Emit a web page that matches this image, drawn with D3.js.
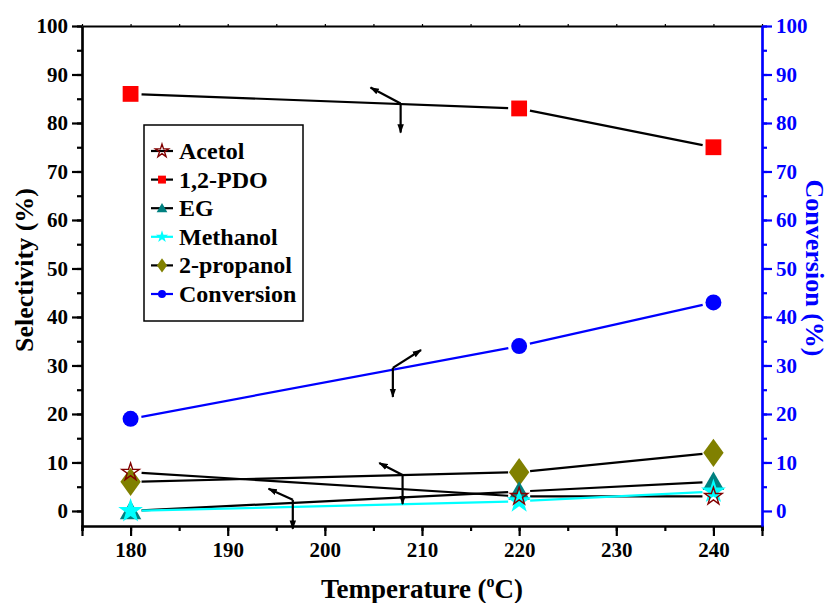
<!DOCTYPE html>
<html>
<head>
<meta charset="utf-8">
<script src="https://cdn.jsdelivr.net/npm/d3@7/dist/d3.min.js"></script>
<style>
  html, body { margin: 0; padding: 0; background: #fff; }
  svg text { font-family: "Liberation Serif", "Times New Roman", serif; font-weight: bold; }
</style>
</head>
<body>
<svg id="chart" width="832" height="603"></svg>
<script>
// Reaction temperature (°C)
const temperatures = [180, 220, 240];

// Product selectivity (%) — left axis
const acetol     = [8, 3, 3];
const pdo        = [86, 83, 75];
const eg         = [0, 4, 6];
const methanol   = [0, 2, 4];
const propanol2  = [6, 8, 12];
// Glycerol conversion (%) — right axis
const conversion = [19, 34, 43];

const xTicks = [180, 190, 200, 210, 220, 230, 240];
const yTicks = [0, 10, 20, 30, 40, 50, 60, 70, 80, 90, 100];

const seriesNames = ["Acetol", "1,2-PDO", "EG", "Methanol", "2-propanol", "Conversion"];

const svg = d3.select("#chart");
const margin = { left: 82, right: 70, top: 26, bottom: 77 };
const W = 832, H = 603;

const x = d3.scaleLinear().domain([175, 245]).range([margin.left, W - margin.right]);
const yL = d3.scaleLinear().domain([-3.1, 100]).range([H - margin.bottom, margin.top]);
const yR = d3.scaleLinear().domain([-3.1, 100]).range([H - margin.bottom, margin.top]);

const series = [
  { name: seriesNames[0], values: acetol,     y: yL, line: "#000", marker: "starOpen", color: "#800000" },
  { name: seriesNames[1], values: pdo,        y: yL, line: "#000", marker: "square",   color: "#ff0000" },
  { name: seriesNames[2], values: eg,         y: yL, line: "#000", marker: "triangle", color: "#008080" },
  { name: seriesNames[3], values: methanol,   y: yL, line: "#00ffff", marker: "star",  color: "#00ffff" },
  { name: seriesNames[4], values: propanol2,  y: yL, line: "#000", marker: "diamond",  color: "#808000" },
  { name: seriesNames[5], values: conversion, y: yR, line: "#0000ff", marker: "circle", color: "#0000ff" }
];

// Marker drawing
function drawMarker(g, type, cx, cy, color, scale) {
  const s = scale || 1;
  const sym = {
    square:   d3.symbolSquare,
    circle:   d3.symbolCircle,
    triangle: d3.symbolTriangle,
    diamond:  d3.symbolDiamond,
    star:     d3.symbolStar,
    starOpen: d3.symbolStar
  }[type];
  const size = {
    square: 250, circle: 200, triangle: 200, diamond: 230, star: 190, starOpen: 95
  }[type] * s * s;
  const p = g.append("path")
    .attr("d", d3.symbol().type(sym).size(size)())
    .attr("transform", `translate(${cx},${cy + (type === "triangle" ? 2 * s : 0)})`);
  if (type === "starOpen") {
    p.attr("fill", "none").attr("stroke", color).attr("stroke-width", 1.4);
  } else if (type === "diamond") {
    p.attr("fill", color).attr("transform", `translate(${cx},${cy}) scale(1.25,1)`);
  } else {
    p.attr("fill", color);
  }
}

// Axes
const bottomY = H - margin.bottom;

// bottom axis
const gx = svg.append("g").attr("transform", `translate(0,${bottomY})`);
gx.call(d3.axisBottom(x).tickValues(d3.range(175, 246, 5)).tickSize(5).tickFormat(""));
gx.append("g").call(d3.axisBottom(x).tickValues(xTicks).tickSize(10).tickPadding(6).tickFormat(d3.format("d")));
gx.selectAll("path.domain").attr("stroke-width", 2.2);
gx.selectAll("line").attr("stroke-width", 2.2);
gx.selectAll("text").attr("font-size", 21).attr("fill", "#000");

// top axis
const gt = svg.append("g").attr("transform", `translate(0,${margin.top})`);
gt.call(d3.axisTop(x).tickValues(d3.range(175, 246, 5)).tickSize(2).tickSizeOuter(0).tickFormat(""));
gt.selectAll("path.domain").attr("stroke-width", 2.2);
gt.selectAll("line").attr("stroke-width", 1.2);

// left axis
const gy = svg.append("g").attr("transform", `translate(${margin.left},0)`);
gy.call(d3.axisLeft(yL).tickValues(d3.range(-5, 101, 5).filter(v => v >= -3.1)).tickSize(5).tickSizeOuter(0).tickFormat(""));
gy.append("g").call(d3.axisLeft(yL).tickValues(yTicks).tickSize(10).tickSizeOuter(0).tickPadding(4).tickFormat(d3.format("d")));
gy.selectAll("path.domain").attr("stroke-width", 2.2);
gy.selectAll("line").attr("stroke-width", 2.2);
gy.selectAll("text").attr("font-size", 21).attr("fill", "#000");

// right axis (blue)
const gr = svg.append("g").attr("transform", `translate(${W - margin.right},0)`);
gr.call(d3.axisRight(yR).tickValues(d3.range(5, 101, 5)).tickSize(5).tickSizeOuter(0).tickFormat(""));
gr.append("g").call(d3.axisRight(yR).tickValues(yTicks).tickSize(10).tickSizeOuter(0).tickPadding(4).tickFormat(d3.format("d")));
gr.selectAll("path.domain").attr("stroke", "#0000ff").attr("stroke-width", 2.2);
gr.selectAll("line").attr("stroke", "#0000ff").attr("stroke-width", 2.2);
gr.selectAll("text").attr("font-size", 21).attr("fill", "#0000ff");

// Axis titles
svg.append("text")
  .attr("transform", `translate(33,${(margin.top + bottomY) / 2 - 6}) rotate(-90)`)
  .attr("text-anchor", "middle").attr("font-size", 26).attr("fill", "#000")
  .text("Selectivity (%)");

svg.append("text")
  .attr("transform", `translate(806,${(margin.top + bottomY) / 2 - 8}) rotate(90)`)
  .attr("text-anchor", "middle").attr("font-size", 26).attr("fill", "#0000ff")
  .text("Conversion (%)");

const xt = svg.append("text")
  .attr("x", (margin.left + W - margin.right) / 2).attr("y", 598)
  .attr("text-anchor", "middle").attr("font-size", 27).attr("fill", "#000");
xt.append("tspan").text("Temperature (");
xt.append("tspan").attr("font-size", 16).attr("dy", -11).text("o");
xt.append("tspan").attr("dy", 11).text("C)");

// Data lines: segments stop short of the markers
const gap = 11;
const gLines = svg.append("g");
series.forEach(s => {
  for (let i = 0; i < s.values.length - 1; i++) {
    const x1 = x(temperatures[i]), y1 = s.y(s.values[i]);
    const x2 = x(temperatures[i + 1]), y2 = s.y(s.values[i + 1]);
    const len = Math.hypot(x2 - x1, y2 - y1);
    const ux = (x2 - x1) / len, uy = (y2 - y1) / len;
    gLines.append("line")
      .attr("x1", x1 + ux * gap).attr("y1", y1 + uy * gap)
      .attr("x2", x2 - ux * gap).attr("y2", y2 - uy * gap)
      .attr("stroke", s.line).attr("stroke-width", 2.2);
  }
});

// Markers (draw order so the smaller ones stay visible)
const gMarks = svg.append("g");
const drawOrder = [1, 5, 4, 2, 3, 0];
drawOrder.forEach(k => {
  const s = series[k];
  s.values.forEach((v, i) => drawMarker(gMarks, s.marker, x(temperatures[i]), s.y(v), s.color));
});

// Arrows pointing each curve to its axis
const defs = svg.append("defs");
defs.append("marker").attr("id", "head")
  .attr("viewBox", "0 0 10 10").attr("refX", 9).attr("refY", 5)
  .attr("markerWidth", 4.2).attr("markerHeight", 4.2).attr("orient", "auto")
  .append("path").attr("d", "M0,1.5 L10,5 L0,8.5 Z").attr("fill", "#000");

// [temperature, value, dx to head (°C), dy to head (value units)]
const arrowPoints = [
  { t: 207.8, v: 84.0, axis: yL, dx: -3.1, dy: 3.3 },
  { t: 207.0, v: 29.5, axis: yR, dx: 2.9,  dy: 3.7 },
  { t: 208.0, v: 7.4,  axis: yL, dx: -2.4, dy: 2.5 },
  { t: 196.7, v: 2.3,  axis: yL, dx: -2.5, dy: 2.3 }
];
const gArr = svg.append("g");
arrowPoints.forEach(a => {
  const cx = x(a.t), cy = a.axis(a.v);
  gArr.append("line")
    .attr("x1", cx).attr("y1", cy)
    .attr("x2", x(a.t + a.dx)).attr("y2", a.axis(a.v + a.dy))
    .attr("stroke", "#000").attr("stroke-width", 2.2).attr("marker-end", "url(#head)");
  gArr.append("line")
    .attr("x1", cx).attr("y1", cy)
    .attr("x2", cx).attr("y2", cy + 29)
    .attr("stroke", "#000").attr("stroke-width", 2.2).attr("marker-end", "url(#head)");
});

// Legend
const lg = svg.append("g").attr("transform", "translate(144,125)");
lg.append("rect").attr("width", 159).attr("height", 196)
  .attr("fill", "#fff").attr("stroke", "#000").attr("stroke-width", 1.5);
series.forEach((s, i) => {
  const cy = 26 + i * 28.6;
  lg.append("line").attr("x1", 7).attr("x2", 29).attr("y1", cy).attr("y2", cy)
    .attr("stroke", s.line).attr("stroke-width", 2.2);
  drawMarker(lg, s.marker, 18, cy, s.color, s.marker === "starOpen" ? 0.75 : 0.5);
  lg.append("text").attr("x", 35).attr("y", cy + 8)
    .attr("font-size", 24).attr("fill", "#000").text(s.name);
});
</script>
</body>
</html>
